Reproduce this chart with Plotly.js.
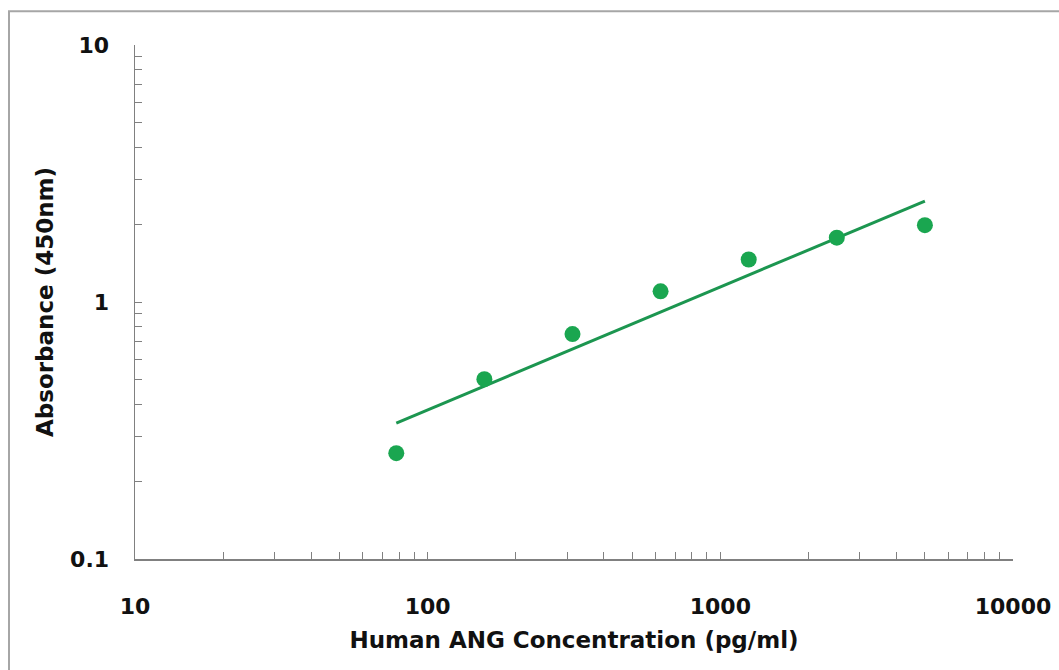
<!DOCTYPE html>
<html>
<head>
<meta charset="utf-8">
<script src="https://cdn.plot.ly/plotly-3.0.1.min.js"></script>
<style>
html,body{margin:0;padding:0;background:#fff;}
#chart{width:1059px;height:670px;}
</style>
</head>
<body>
<div id="chart"></div>
<script>
// Data
const concentration = [78.125, 156.25, 312.5, 625, 1250, 2500, 5000];
const absorbance = [0.258, 0.501, 0.750, 1.10, 1.463, 1.78, 1.99];
const fitX = [78.125, 5000];
const fitY = [0.338, 2.47];
const xDecades = [10, 100, 1000, 10000];
const xDecadeLabels = ["10", "100", "1000", "10000"];
const yDecades = [0.1, 1, 10];
const yDecadeLabels = ["0.1", "1", "10"];

function logTicks(decades, labels) {
  const vals = [], text = [];
  for (let i = 0; i < decades.length; i++) {
    vals.push(decades[i]); text.push(labels[i]);
    if (i < decades.length - 1) {
      for (let m = 2; m <= 9; m++) { vals.push(decades[i] * m); text.push(""); }
    }
  }
  return {vals, text};
}
const xt = logTicks(xDecades, xDecadeLabels);
const yt = logTicks(yDecades, yDecadeLabels);

const fontFam = "DejaVu Sans, Arial, sans-serif";
const green = "#1aa650";

const traces = [
  {
    x: fitX, y: fitY, mode: "lines", type: "scatter",
    line: {color: "#1c9650", width: 3},
    hoverinfo: "skip", showlegend: false
  },
  {
    x: concentration, y: absorbance, mode: "markers", type: "scatter",
    marker: {color: green, size: 16},
    showlegend: false
  }
];

const layout = {
  width: 1059, height: 670,
  margin: {l: 135, r: 46, t: 45, b: 111},
  paper_bgcolor: "#fff", plot_bgcolor: "#fff",
  font: {family: fontFam, color: "#000", size: 20},
  showlegend: false,
  xaxis: {
    type: "log", range: [1, 4],
    tickmode: "array", tickvals: xt.vals, ticktext: xt.text,
    ticks: "inside", ticklen: 7, tickcolor: "#808080", tickwidth: 1,
    showline: true, linecolor: "#808080", linewidth: 1.5,
    showgrid: false, zeroline: false, mirror: false,
    tickfont: {family: fontFam, size: 22, weight: "bold", color: "#111"},
    ticklabelstandoff: 27,
    title: {text: "Human ANG Concentration (pg/ml)", standoff: 14,
            font: {family: fontFam, size: 23, weight: "bold", color: "#111"}}
  },
  yaxis: {
    type: "log", range: [-1, 1],
    tickmode: "array", tickvals: yt.vals, ticktext: yt.text,
    ticks: "inside", ticklen: 7, tickcolor: "#808080", tickwidth: 1,
    showline: true, linecolor: "#808080", linewidth: 1.5,
    showgrid: false, zeroline: false, mirror: false,
    tickfont: {family: fontFam, size: 22, weight: "bold", color: "#111"},
    ticklabelstandoff: 20,
    title: {text: "Absorbance (450nm)", standoff: 10,
            font: {family: fontFam, size: 23, weight: "bold", color: "#111"}}
  },
  shapes: [
    {type: "rect", xref: "paper", yref: "paper",
     x0: -0.1435, x1: 2, y0: -2, y1: 1.0655,
     line: {color: "#a6a6a6", width: 2}, layer: "below"}
  ]
};

Plotly.newPlot("chart", traces, layout, {displayModeBar: false, staticPlot: true});
</script>
</body>
</html>
